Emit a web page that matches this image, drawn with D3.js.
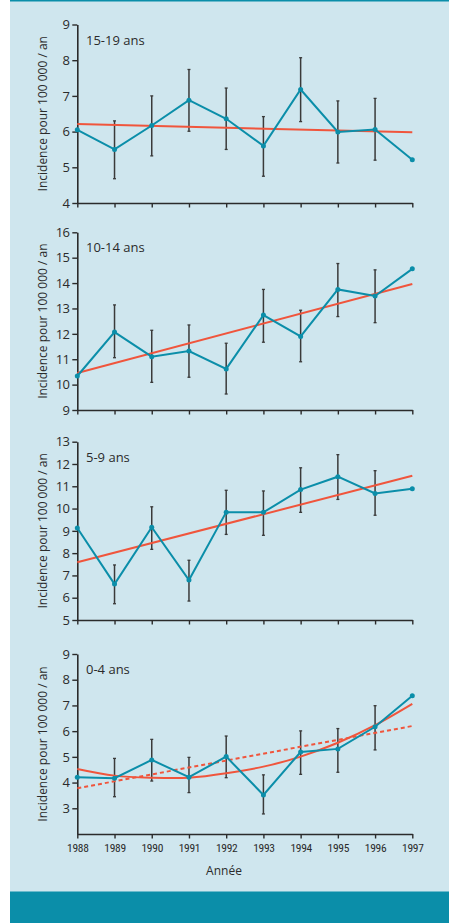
<!DOCTYPE html>
<html><head><meta charset="utf-8">
<script src="https://cdn.jsdelivr.net/npm/d3@7"></script>
<style>
html,body{margin:0;padding:0;background:#fff;}
svg{display:block;}
text{font-family:"Open Sans","Noto Sans",sans-serif;fill:#2b2b2b;}
.cond{font-family:"Liberation Sans Narrow","Roboto Condensed","Open Sans",sans-serif;}
</style></head>
<body>
<svg id="c" width="454" height="923"></svg>
<script>
const years = [1988,1989,1990,1991,1992,1993,1994,1995,1996,1997];

const labels = ["15-19 ans","10-14 ans","5-9 ans","0-4 ans"];

const v1519 = [6.05,5.50,6.17,6.88,6.36,5.60,7.18,5.99,6.06,5.21];
const lo1519 = [null,4.68,5.32,6.01,5.50,4.75,6.28,5.12,5.20,null];
const hi1519 = [null,6.30,7.00,7.74,7.22,6.42,8.07,6.86,6.93,null];
const trend1519 = [6.21,5.98];

const v1014 = [10.34,12.07,11.10,11.32,10.62,12.74,11.90,13.75,13.49,14.56];
const lo1014 = [null,11.06,10.09,10.29,9.63,11.67,10.90,12.68,12.44,null];
const hi1014 = [null,13.14,12.14,12.35,11.63,13.75,12.93,14.77,14.52,null];
const trend1014 = [10.46,13.96];

const v59 = [9.13,6.61,9.16,6.79,9.84,9.83,10.85,11.43,10.68,10.89];
const lo59 = [null,5.73,8.17,5.85,8.84,8.80,9.83,10.41,9.70,null];
const hi59 = [null,7.47,10.08,7.68,10.82,10.79,11.83,12.42,11.70,null];
const trend59 = [7.59,11.47];

const v04 = [4.21,4.17,4.88,4.21,5.01,3.52,5.19,5.31,6.17,7.38];
const lo04 = [null,3.45,4.06,3.61,4.19,2.78,4.32,4.40,5.27,null];
const hi04 = [null,4.94,5.68,4.98,5.81,4.30,6.01,6.10,6.99,null];
const curve04 = [4.53,4.27,4.19,4.19,4.36,4.62,5.01,5.55,6.23,7.06];
const trend04 = [3.78,6.20];

const yDomains = [[4,9],[9,16],[5,13],[2,9]];
const yTicks = [[4,5,6,7,8,9],[9,10,11,12,13,14,15,16],[5,6,7,8,9,10,11,12,13],[3,4,5,6,7,8,9]];

const yTitle = "Incidence pour 100 000 / an";
const xTitle = "Année";

const panels = [
  {label:labels[0], v:v1519, lo:lo1519, hi:hi1519, trend:trend1519, curve:null, dom:yDomains[0], ticks:yTicks[0], range:[203,24.5]},
  {label:labels[1], v:v1014, lo:lo1014, hi:hi1014, trend:trend1014, curve:null, dom:yDomains[1], ticks:yTicks[1], range:[410,232.3]},
  {label:labels[2], v:v59, lo:lo59, hi:hi59, trend:trend59, curve:null, dom:yDomains[2], ticks:yTicks[2], range:[620,441.7]},
  {label:labels[3], v:v04, lo:lo04, hi:hi04, trend:trend04, curve:curve04, dom:yDomains[3], ticks:yTicks[3], range:[834,654]}
];

const svg = d3.select("#c");
const TEAL = "#0b8ea9", RED = "#f0553c", BG = "#cfe6ee", INK = "#2b2b2b";

svg.append("rect").attr("x",10).attr("y",0).attr("width",439).attr("height",892).attr("fill",BG);
svg.append("rect").attr("x",10).attr("y",0).attr("width",439).attr("height",1.5).attr("fill",TEAL);
svg.append("rect").attr("x",10).attr("y",891.5).attr("width",439).attr("height",31.5).attr("fill",TEAL);

const x = d3.scaleLinear().domain([1988,1997]).range([77.3,412.3]);

panels.forEach((p,i)=>{
  const y = d3.scaleLinear().domain(p.dom).range(p.range);
  const g = svg.append("g");
  const isLast = i===panels.length-1;

  // x axis
  const xa = g.append("g").attr("transform",`translate(0,${p.range[0]})`)
    .call(d3.axisBottom(x).tickValues(years).tickSize(4.5).tickSizeOuter(0)
      .tickFormat(isLast ? d3.format("d") : ()=>""));
  xa.select(".domain").attr("stroke",INK).attr("stroke-width",1.6);
  xa.selectAll(".tick line").attr("stroke",INK).attr("stroke-width",1.4);
  xa.selectAll(".tick text").attr("class","cond").attr("font-size",11.5).attr("dy","0.9em").attr("fill",INK)
    .style("letter-spacing","-0.3px");

  // y axis
  const ya = g.append("g").attr("transform",`translate(${x.range()[0]},0)`)
    .call(d3.axisLeft(y).tickValues(p.ticks).tickSize(5).tickSizeOuter(0).tickFormat(d3.format("d")).tickPadding(3));
  ya.select(".domain").attr("stroke",INK).attr("stroke-width",1.6);
  ya.selectAll(".tick line").attr("stroke",INK).attr("stroke-width",1.4);
  ya.selectAll(".tick text").attr("font-size",13).attr("fill",INK).style("letter-spacing","-0.6px");

  // y title
  const cy = (p.range[0]+p.range[1])/2;
  g.append("text").attr("transform",`translate(47,${cy}) rotate(-90)`)
    .attr("text-anchor","middle").attr("font-size",12).text(yTitle);

  // panel label
  g.append("text").attr("x",86).attr("y",p.range[1]+20).attr("font-size",13).text(p.label);

  // error bars
  years.forEach((yr,k)=>{
    if(p.lo[k]==null) return;
    const xx = x(yr);
    g.append("line").attr("x1",xx).attr("x2",xx).attr("y1",y(p.hi[k])).attr("y2",y(p.lo[k]))
      .attr("stroke","#3a3a3a").attr("stroke-width",1.5);
    [p.hi[k],p.lo[k]].forEach(v=>{
      g.append("line").attr("x1",xx-1.5).attr("x2",xx+1.5).attr("y1",y(v)).attr("y2",y(v))
        .attr("stroke","#3a3a3a").attr("stroke-width",1.3);
    });
  });

  // trend
  if(p.curve){
    g.append("path").datum(p.curve)
      .attr("d",d3.line().x((d,k)=>x(years[k])).y(d=>y(d)).curve(d3.curveNatural))
      .attr("fill","none").attr("stroke",RED).attr("stroke-width",2);
    g.append("line").attr("x1",x(1988)).attr("x2",x(1997)).attr("y1",y(p.trend[0])).attr("y2",y(p.trend[1]))
      .attr("stroke",RED).attr("stroke-width",2).attr("stroke-dasharray","4,3");
  } else {
    g.append("line").attr("x1",x(1988)).attr("x2",x(1997)).attr("y1",y(p.trend[0])).attr("y2",y(p.trend[1]))
      .attr("stroke",RED).attr("stroke-width",2);
  }

  // series
  g.append("path").datum(p.v)
    .attr("d",d3.line().x((d,k)=>x(years[k])).y(d=>y(d)))
    .attr("fill","none").attr("stroke",TEAL).attr("stroke-width",2);
  g.selectAll("circle.pt").data(p.v).enter().append("circle")
    .attr("cx",(d,k)=>x(years[k])).attr("cy",d=>y(d)).attr("r",2.5).attr("fill",TEAL);

  if(isLast){
    g.append("text").attr("x",224).attr("y",875).attr("text-anchor","middle").attr("font-size",12).text(xTitle);
  }
});
</script>
</body></html>
